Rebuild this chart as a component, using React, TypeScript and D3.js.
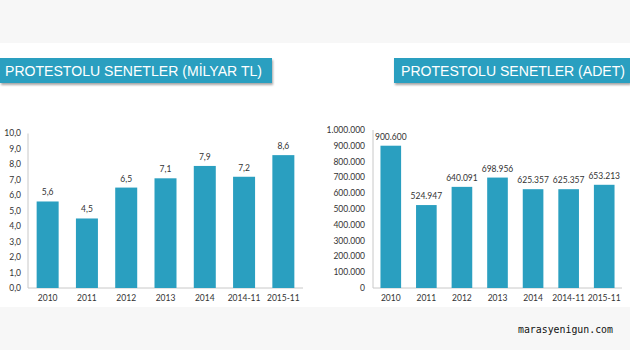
import React from "react";
import * as d3 from "d3";

const categories = ["2010", "2011", "2012", "2013", "2014", "2014-11", "2015-11"];
const amountValues = [5.6, 4.5, 6.5, 7.1, 7.9, 7.2, 8.6];
const countValues = [900600, 524947, 640091, 698956, 625357, 625357, 653213];
const amountTicks = [0, 1, 2, 3, 4, 5, 6, 7, 8, 9, 10];
const countTicks = [0, 100000, 200000, 300000, 400000, 500000, 600000, 700000, 800000, 900000, 1000000];
const leftTitle = "PROTESTOLU SENETLER (MİLYAR TL)";
const rightTitle = "PROTESTOLU SENETLER (ADET)";
const watermark = "marasyenigun.com";

const BAR = "#2a9fc0";
const FONT = "'Liberation Sans', Arial, sans-serif";
const AXFONT = "Lato, 'DejaVu Sans', sans-serif";

const fmtComma1 = (v: number) => v.toFixed(1).replace(".", ",");
const fmtDots = (v: number) => d3.format(",")(v).replace(/,/g, ".");

function Chart(props: {
  x0: number; x1: number; y0: number; y1: number;
  values: number[]; ticks: number[]; max: number;
  fmt: (v: number) => string; labelX: number; pad: number;
}) {
  const { x0, x1, y0, y1, values, ticks, max, fmt, labelX, pad } = props;
  const x = d3.scaleBand<string>().domain(categories).range([x0, x1]).paddingInner(pad).paddingOuter(pad / 2);
  const y = d3.scaleLinear().domain([0, max]).range([y0, y1]);
  return (
    <g>
      <line x1={x0} x2={x0} y1={y1} y2={y0} stroke="#c8c8c8" strokeWidth={1} />
      <line x1={x0} x2={x1} y1={y0} y2={y0} stroke="#c8c8c8" strokeWidth={1} />
      {ticks.map((t) => (
        <text key={t} x={labelX} y={y(t)} dy="0.35em" textAnchor="end" fontSize={8.5} fill="#333" fontFamily={AXFONT}>
          {fmt(t)}
        </text>
      ))}
      {categories.map((c, i) => (
        <g key={c}>
          <rect x={x(c)} y={y(values[i])} width={x.bandwidth()} height={y0 - y(values[i])} fill={BAR} />
          <text x={(x(c) as number) + x.bandwidth() / 2} y={y(values[i]) - 6} textAnchor="middle" fontSize={8.5} fill="#333" fontFamily={AXFONT}>
            {fmt(values[i])}
          </text>
          <text x={(x(c) as number) + x.bandwidth() / 2} y={y0 + 13} textAnchor="middle" fontSize={8.5} fill="#333" fontFamily={AXFONT}>
            {c}
          </text>
        </g>
      ))}
    </g>
  );
}

export default function App() {
  return (
    <svg width={630} height={350} style={{ position: "absolute", left: 0, top: 0, display: "block" }}>
      <defs>
        <filter id="sh" x="-5%" y="-20%" width="110%" height="160%">
          <feDropShadow dx={1} dy={2} stdDeviation={1} floodColor="#000" floodOpacity={0.35} />
        </filter>
      </defs>
      <rect x={0} y={0} width={630} height={350} fill="#ffffff" />
      <rect x={0} y={0} width={630} height={43} fill="#f7f7f7" />
      <rect x={0} y={307} width={630} height={43} fill="#f7f7f7" />

      <rect x={0} y={58} width={272} height={25} fill={BAR} filter="url(#sh)" />
      <text x={5} y={76} fontSize={14} fill="#fff" fontFamily={FONT} textLength={257} lengthAdjust="spacingAndGlyphs">{leftTitle}</text>
      <rect x={394} y={58} width={236} height={25} fill={BAR} filter="url(#sh)" />
      <text x={401} y={76} fontSize={14} fill="#fff" fontFamily={FONT} textLength={224} lengthAdjust="spacingAndGlyphs">{rightTitle}</text>

      <Chart x0={28} x1={303} y0={288} y1={133.5} values={amountValues} ticks={amountTicks} max={10}
        fmt={fmtComma1} labelX={21} pad={0.44} />
      <Chart x0={373} x1={622} y0={288} y1={130} values={countValues} ticks={countTicks} max={1000000}
        fmt={fmtDots} labelX={365} pad={0.42} />

      <text x={613} y={333} textAnchor="end" fontSize={10.5} fill="#111" fontFamily="'DejaVu Sans Mono', monospace" textLength={95} lengthAdjust="spacingAndGlyphs">{watermark}</text>
    </svg>
  );
}
